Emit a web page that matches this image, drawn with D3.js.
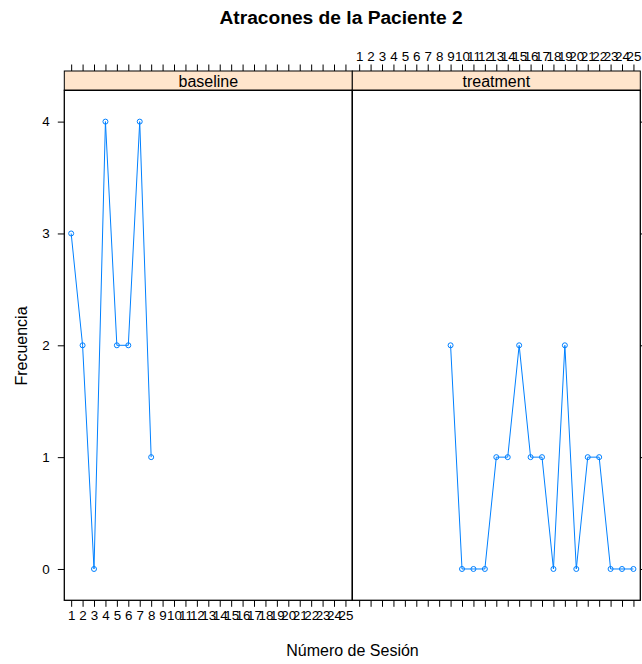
<!DOCTYPE html>
<html>
<head>
<meta charset="utf-8">
<script src="https://cdn.jsdelivr.net/npm/d3@7"></script>
<style>
  html, body { margin: 0; padding: 0; background: #fff; }
  svg { display: block; font-family: "Liberation Sans", Arial, sans-serif; }
</style>
</head>
<body>
<svg id="chart" width="642" height="664"></svg>
<script>
// Sessions and binge counts per phase
const sessions = d3.range(1, 26).map(String);
const baselineSessions = [1, 2, 3, 4, 5, 6, 7, 8];
const baselineValues = [3, 2, 0, 4, 2, 2, 4, 1];
const treatmentSessions = [9, 10, 11, 12, 13, 14, 15, 16, 17, 18, 19, 20, 21, 22, 23, 24, 25];
const treatmentValues = [2, 0, 0, 0, 1, 1, 2, 1, 1, 0, 2, 0, 1, 1, 0, 0, 0];
const yTicks = [0, 1, 2, 3, 4];
const phases = ["baseline", "treatment"];

const title = "Atracones de la Paciente 2";
const xTitle = "Número de Sesión";
const yTitle = "Frecuencia";

const panels = [
  { name: phases[0], x: baselineSessions, y: baselineValues },
  { name: phases[1], x: treatmentSessions, y: treatmentValues }
];

const svg = d3.select("#chart");
const lineColor = "#0080ff";
const stripFill = "#ffe5cc";
const tickFont = 13.4;

// layout
const panelW = 288;
const left0 = 64.3;
const stripTop = 71;
const stripH = 19.3;
const plotTop = stripTop + stripH;
const plotBottom = 600.3;
const tickLen = 6.5;

// factor x axis: levels 1..25, padded by 0.6 on each side
const xLin = d3.scaleLinear().domain([0.4, 25.6]).range([0, panelW]);
const y = d3.scaleLinear().domain([-0.28, 4.28]).range([plotBottom, plotTop]);

svg.append("text")
  .attr("x", 341).attr("y", 23.5)
  .attr("text-anchor", "middle")
  .attr("font-size", 19.2).attr("font-weight", "bold")
  .text(title);

panels.forEach((p, i) => {
  const x0 = left0 + i * panelW;
  const g = svg.append("g").attr("transform", `translate(${x0},0)`);
  const xs = v => xLin(v);

  // bottom axis: labels only on first panel
  const bottomAxis = d3.axisBottom(xLin)
    .tickValues(d3.range(1, 26))
    .tickSize(tickLen).tickPadding(4)
    .tickFormat(i === 0 ? (d => sessions[d - 1]) : () => "");
  const gb = g.append("g").attr("transform", `translate(0,${plotBottom})`).call(bottomAxis);

  // top axis: labels only on second panel
  const topAxis = d3.axisTop(xLin)
    .tickValues(d3.range(1, 26))
    .tickSize(tickLen).tickPadding(4)
    .tickFormat(i === 1 ? (d => sessions[d - 1]) : () => "");
  const gt = g.append("g").attr("transform", `translate(0,${stripTop})`).call(topAxis);

  [gb, gt].forEach(ax => {
    ax.select(".domain").remove();
    ax.selectAll("line").attr("stroke", "#000");
    ax.selectAll("text").attr("font-size", tickFont)
      .attr("font-family", "Liberation Sans, Arial, sans-serif").attr("fill", "#000");
  });

  // y axis: labelled on the left, ticks only on the right
  if (i === 0) {
    const ya = g.append("g").call(
      d3.axisLeft(y).tickValues(yTicks).tickSize(tickLen).tickPadding(8).tickFormat(d3.format("d"))
    );
    ya.select(".domain").remove();
    ya.selectAll("line").attr("stroke", "#000");
    ya.selectAll("text").attr("font-size", tickFont)
      .attr("font-family", "Liberation Sans, Arial, sans-serif").attr("fill", "#000");
  } else {
    const ya = g.append("g").attr("transform", `translate(${panelW},0)`)
      .call(d3.axisRight(y).tickValues(yTicks).tickSize(tickLen).tickFormat(() => ""));
    ya.select(".domain").remove();
    ya.selectAll("line").attr("stroke", "#000");
  }

  // strip
  g.append("rect")
    .attr("x", 0).attr("y", stripTop).attr("width", panelW).attr("height", stripH)
    .attr("fill", stripFill).attr("stroke", "#000").attr("stroke-width", 1);
  g.append("text")
    .attr("x", panelW / 2).attr("y", stripTop + 15.8)
    .attr("text-anchor", "middle").attr("font-size", 16).attr("fill", "#000")
    .text(p.name);

  // panel frame
  g.append("rect")
    .attr("x", 0).attr("y", plotTop).attr("width", panelW).attr("height", plotBottom - plotTop)
    .attr("fill", "none").attr("stroke", "#000").attr("stroke-width", 1.3);

  const pts = p.x.map((s, k) => [xs(s), y(p.y[k])]);
  g.append("path")
    .attr("d", d3.line()(pts))
    .attr("fill", "none").attr("stroke", lineColor).attr("stroke-width", 1);
  g.selectAll("circle.pt").data(pts).join("circle")
    .attr("class", "pt")
    .attr("cx", d => d[0]).attr("cy", d => d[1]).attr("r", 2.5)
    .attr("fill", "none").attr("stroke", lineColor).attr("stroke-width", 1);
});

svg.append("text")
  .attr("x", 352.5).attr("y", 656)
  .attr("text-anchor", "middle").attr("font-size", 16)
  .text(xTitle);

svg.append("text")
  .attr("transform", "translate(27,346) rotate(-90)")
  .attr("text-anchor", "middle").attr("font-size", 16)
  .text(yTitle);
</script>
</body>
</html>
